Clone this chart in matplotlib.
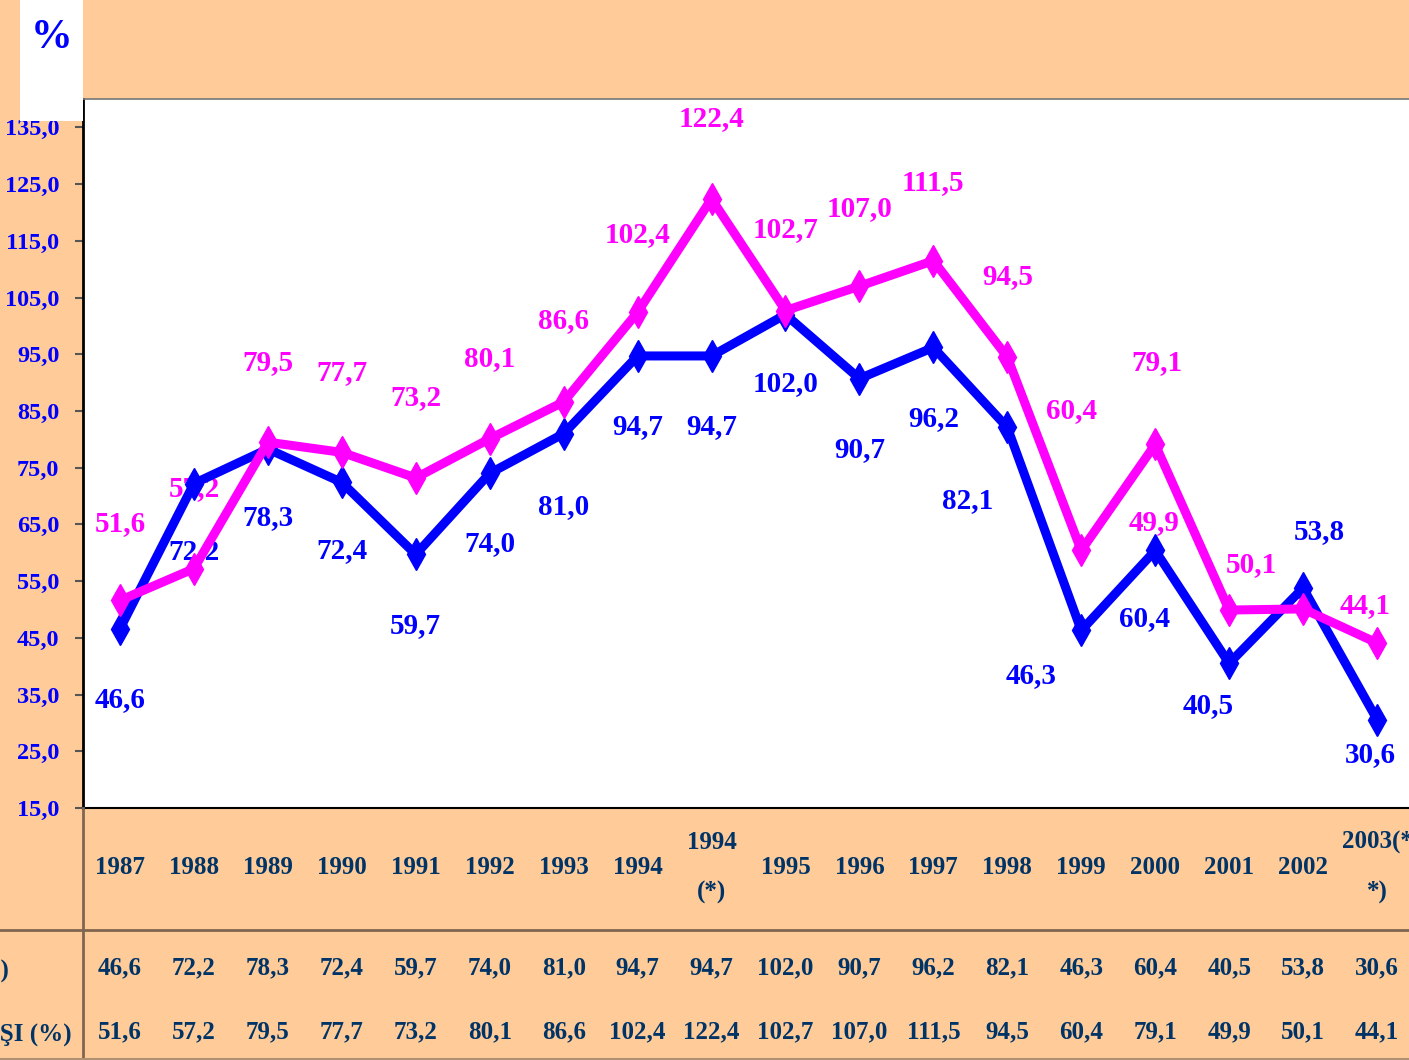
import matplotlib
matplotlib.use('Agg')
import matplotlib.pyplot as plt
from matplotlib.patches import Rectangle
from matplotlib.lines import Line2D
from matplotlib.transforms import blended_transform_factory

# data
years = ['1987', '1988', '1989', '1990', '1991', '1992', '1993', '1994', '1994\n(*)',
         '1995', '1996', '1997', '1998', '1999', '2000', '2001', '2002', '2003(*\n*)']
blue_vals = [46.6, 72.2, 78.3, 72.4, 59.7, 74.0, 81.0, 94.7, 94.7,
             102.0, 90.7, 96.2, 82.1, 46.3, 60.4, 40.5, 53.8, 30.6]
pink_vals = [51.6, 57.2, 79.5, 77.7, 73.2, 80.1, 86.6, 102.4, 122.4,
             102.7, 107.0, 111.5, 94.5, 60.4, 79.1, 49.9, 50.1, 44.1]
row_names = ['FAİZ ORANI (%)', 'FİYAT ARTIŞI (%)']
yticks = [15, 25, 35, 45, 55, 65, 75, 85, 95, 105, 115, 125, 135]

# label offsets in pixels (dx, dy up)
pink_off = [(0, 77), (0, 80), (0, 80), (0, 80), (0, 80), (0, 80), (0, 81), (0, 78), (0, 80),
            (0, 81), (0, 78), (0, 78), (0, 81), (-10, 140), (2, 82), (-75, 88), (-52, 44), (-12, 37)]
blue_off = [(0, -71), (0, -68), (0, -69), (0, -68), (0, -71), (0, -70), (0, -73), (0, -71), (0, -71),
            (0, -69), (0, -71), (0, -71), (-40, -73), (-50, -45), (-11, -68), (-21, -42), (16, 56), (-7, -35)]

BLUE = '#0000FF'
PINK = '#FF00FF'
NAVY = '#003366'
PEACH = '#FFCC99'
FONT = 'Liberation Serif'

def fmt(v):
    return ('%.1f' % v).replace('.', ',')

W, H = 1409, 1060
fig = plt.figure(figsize=(W / 100, H / 100), dpi=100, facecolor=PEACH)
ax = fig.add_axes([83 / W, 252 / H, 1331 / W, 709 / H])
ax.set_facecolor('white')

x = list(range(len(years)))
ax.plot(x, blue_vals, color=BLUE, lw=6.5, marker='d', ms=16, zorder=3)
ax.plot(x, pink_vals, color=PINK, lw=6.5, marker='d', ms=16, zorder=4)

for i, v in enumerate(pink_vals):
    ax.annotate(fmt(v), (i, v), xytext=pink_off[i], textcoords='offset pixels',
                ha='center', va='center', color=PINK, fontsize=21,
                fontweight='bold', family=FONT, zorder=2)
for i, v in enumerate(blue_vals):
    ax.annotate(fmt(v), (i, v), xytext=blue_off[i], textcoords='offset pixels',
                ha='center', va='center', color=BLUE, fontsize=21,
                fontweight='bold', family=FONT, zorder=2)

ax.set_xlim(-0.5, len(years) - 0.5)
ax.set_ylim(15, 140)
ax.set_yticks(yticks)
ax.set_yticklabels([fmt(t) for t in yticks], family=FONT, fontweight='bold',
                   fontsize=17.5, color=BLUE)
ax.tick_params(axis='y', direction='out', length=6, width=1.5, color='#555555', pad=11)

ax.set_xticks(x)
ax.set_xticklabels(years, family=FONT, fontweight='bold', fontsize=18, color=NAVY)
ax.tick_params(axis='x', length=0, pad=43)
for t in ax.get_xticklabels():
    t.set_va('center')
    t.set_linespacing(2.5)

ax.spines['right'].set_visible(False)
ax.spines['top'].set_color('#777777')
ax.spines['top'].set_linewidth(1.2)
ax.spines['left'].set_color('black')
ax.spines['left'].set_linewidth(2)
ax.spines['bottom'].set_color('black')
ax.spines['bottom'].set_linewidth(1.5)

# table part
trans = blended_transform_factory(ax.transData, fig.transFigure)
row_y = [1 - 968 / H, 1 - 1032 / H]
for r, vals in enumerate([blue_vals, pink_vals]):
    for i, v in enumerate(vals):
        ax.text(i, row_y[r], fmt(v), transform=trans, ha='center', va='center',
                family=FONT, fontweight='bold', fontsize=18, color=NAVY, clip_on=False)
fig.text(9 / W, row_y[0], row_names[0], ha='right', va='center', family=FONT,
         fontweight='bold', fontsize=18, color=NAVY)
fig.text(72 / W, row_y[1], row_names[1], ha='right', va='center', family=FONT,
         fontweight='bold', fontsize=18, color=NAVY)

fig.add_artist(Line2D([0, 1], [1 - 930 / H, 1 - 930 / H], color='#806650', lw=2))
fig.add_artist(Line2D([83 / W, 83 / W], [0, 252 / H], color='#806650', lw=2))
fig.add_artist(Line2D([0, 1], [1.5 / H, 1.5 / H], color='#b09070', lw=1.5))

# white box with %
fig.add_artist(Rectangle((20 / W, 1 - 121 / H), 63 / W, 121 / H, transform=fig.transFigure,
                         facecolor='white', edgecolor='none', zorder=5))
fig.text(52 / W, 1 - 38 / H, '%', ha='center', va='center', family=FONT,
         fontweight='bold', fontsize=30, color=BLUE, zorder=6)

fig.savefig('out.png', dpi=100, facecolor=PEACH)
